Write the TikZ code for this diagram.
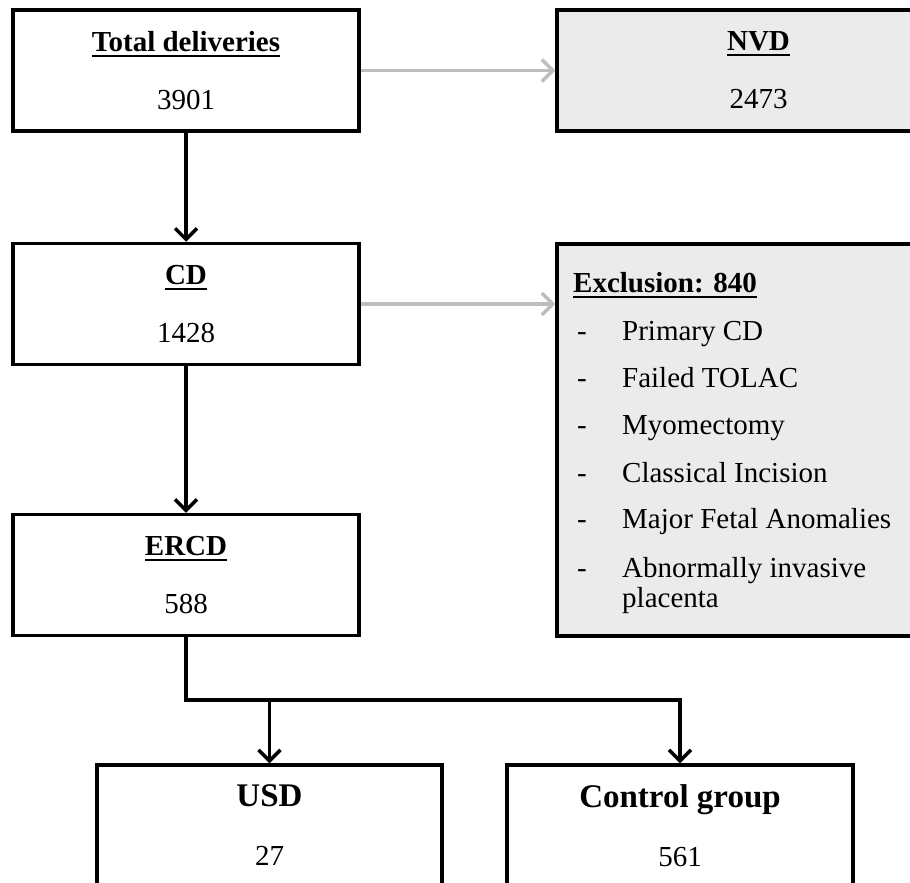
\documentclass[tikz,border=0pt]{standalone}
\usepackage{fontspec}
\setmainfont{Liberation Serif}
\usetikzlibrary{arrows.meta}
\definecolor{boxgray}{RGB}{235,235,235}
\definecolor{arrowgray}{RGB}{190,190,190}
\newcommand{\hd}[1]{\leavevmode\vtop{\hbox{\textbf{#1}}\kern3pt\hrule height 2pt}}
\newcommand{\exitem}[1]{\makebox[49pt][l]{\hspace*{4pt}-}#1}

\begin{document}
\begin{tikzpicture}[x=1pt,y=-1pt,
    box/.style={draw,line width=3.5pt,minimum width=346pt,minimum height=121pt,
      inner sep=0pt,align=center,font=\fontsize{29}{58}\selectfont},
    graybox/.style={box,fill=boxgray,minimum width=403pt},
    arr/.style={line width=3.5pt,-{Straight Barb[length=11pt,width=22pt]}},
    grayarr/.style={arr,draw=arrowgray}]
  \useasboundingbox (0,0) rectangle (910,883);
  \clip (0,0) rectangle (910,883);
  % left column
  \node[box] (total) at (186,70.5) {\hd{Total deliveries}\\3901};
  \node[box] (cd) at (186,304) {\hd{CD}\\1428};
  \node[box] (ercd) at (186,575) {\hd{ERCD}\\588};
  % right column, cut off by the page edge
  \node[graybox] (nvd) at (758.5,70.5) {\hd{NVD}\\2473};
  \node[graybox,minimum height=392pt] (excl) at (758.5,440) {};
  \node[anchor=north west,inner sep=0pt,align=left,font=\fontsize{29}{30}\selectfont]
    (excltext) at (573,272) {\hd{Exclusion: 840}\\[18pt]
      \exitem{Primary CD}\\[17pt]
      \exitem{Failed TOLAC}\\[17pt]
      \exitem{Myomectomy}\\[18pt]
      \exitem{Classical Incision}\\[16pt]
      \exitem{Major Fetal Anomalies}\\[19pt]
      \exitem{Abnormally invasive}\\
      \hspace*{49pt}placenta};
  % groups
  \node[box,minimum width=345pt,font=\fontsize{33}{59}\selectfont] (usd) at (269.5,825.5)
    {\textbf{USD}\\{\fontsize{29}{59}\selectfont 27}};
  \node[box,font=\fontsize{33}{59}\selectfont] (ctrl) at (680,825.5)
    {\textbf{Control group}\\{\fontsize{29}{59}\selectfont 561}};
  % arrows
  \draw[arr] (total) -- (cd);
  \draw[arr] (cd) -- (ercd);
  \draw[grayarr] (total) -- (nvd);
  \draw[grayarr] (cd.east) -- (cd.east -| excl.west);
  \coordinate (fork) at (186,700);
  \draw[arr] (ercd.south) -- (fork) -| (ctrl.north);
  \draw[arr] (fork -| usd.north) -- (usd.north);
\end{tikzpicture}
\end{document}
